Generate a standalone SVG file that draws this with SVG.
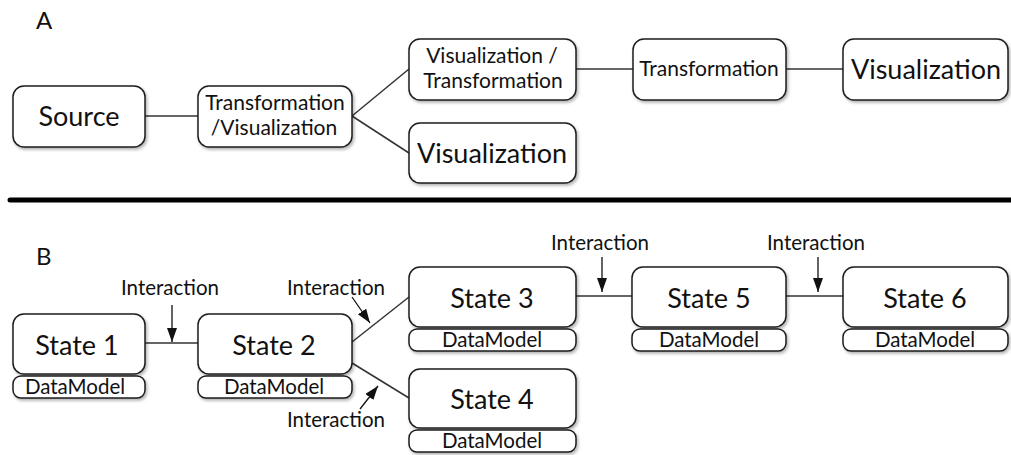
<svg xmlns="http://www.w3.org/2000/svg" width="1011" height="455" viewBox="0 0 1011 455">
  <style>
    .box { fill: #fff; stroke: #1e1e1e; stroke-width: 1.5; filter: url(#shadow); }
    .link { stroke: #333; stroke-width: 1.5; fill: none; }
    .arrow { stroke: #111; stroke-width: 1.3; fill: none; marker-end: url(#head); }
    text { font-family: Lato, "Open Sans", "Liberation Sans", sans-serif; fill: #111; text-anchor: middle; }
    .big { font-size: 27px; }
    .mid { font-size: 21px; }
    .state { font-size: 27px; }
    .dm { font-size: 20.5px; }
    .lbl { font-size: 20.5px; }
    .panel { font-size: 24px; text-anchor: start; }
  </style>
  <defs>
    <filter id="shadow" x="-10%" y="-10%" width="125%" height="135%">
      <feDropShadow dx="1.5" dy="2" stdDeviation="1.5" flood-color="#000" flood-opacity="0.3"/>
    </filter>
    <marker id="head" markerUnits="userSpaceOnUse" markerWidth="16" markerHeight="12" refX="14" refY="5" orient="auto">
      <path d="M0,0 L14,5 L0,10 Z" fill="#111"/>
    </marker>
  </defs>

  <!-- panel A -->
  <text class="panel" x="36" y="29">A</text>

  <g id="connectors-a">
    <line class="link" x1="145" y1="116" x2="198" y2="116"/>
    <line class="link" x1="352" y1="116" x2="409" y2="69"/>
    <line class="link" x1="352" y1="116" x2="409" y2="153"/>
    <line class="link" x1="576" y1="69" x2="633" y2="69"/>
    <line class="link" x1="786" y1="69" x2="843" y2="69"/>
  </g>

  <g id="source">
    <rect class="box" x="13" y="86" width="132" height="61" rx="11"/>
    <text class="big" x="79" y="126">Source</text>
  </g>
  <g id="transform-visualize">
    <rect class="box" x="198" y="86" width="154" height="61" rx="11"/>
    <text class="mid" x="275" y="110">Transformation</text>
    <text class="mid" x="274" y="135">/Visualization</text>
  </g>
  <g id="visualize-transform">
    <rect class="box" x="409" y="39" width="167" height="61" rx="11"/>
    <text class="mid" x="492" y="63">Visualization /</text>
    <text class="mid" x="493" y="88">Transformation</text>
  </g>
  <g id="transformation">
    <rect class="box" x="633" y="39" width="153" height="61" rx="11"/>
    <text class="mid" x="709" y="76">Transformation</text>
  </g>
  <g id="visualization-end">
    <rect class="box" x="843" y="39" width="165" height="61" rx="11"/>
    <text class="big" x="926" y="79">Visualization</text>
  </g>
  <g id="visualization-branch">
    <rect class="box" x="409" y="123" width="167" height="60" rx="11"/>
    <text class="big" x="492" y="163">Visualization</text>
  </g>

  <!-- divider between panels -->
  <line x1="10" y1="200" x2="1011" y2="200" stroke="#000" stroke-width="5" stroke-linecap="round"/>

  <!-- panel B -->
  <text class="panel" x="36" y="265">B</text>

  <g id="connectors-b">
    <line class="link" x1="145" y1="343" x2="198" y2="343"/>
    <line class="link" x1="352" y1="342" x2="409" y2="297"/>
    <line class="link" x1="352" y1="363" x2="409" y2="398"/>
    <line class="link" x1="576" y1="296" x2="632" y2="296"/>
    <line class="link" x1="786" y1="296" x2="843" y2="296"/>
    <line class="arrow" x1="172" y1="305" x2="172" y2="342"/>
    <line class="arrow" x1="352" y1="297" x2="370" y2="323"/>
    <line class="arrow" x1="360" y1="409" x2="378" y2="386"/>
    <line class="arrow" x1="602" y1="257" x2="602" y2="292"/>
    <line class="arrow" x1="818" y1="257" x2="818" y2="292"/>
  </g>

  <g id="interaction-labels">
    <text class="lbl" x="170" y="295">Interaction</text>
    <text class="lbl" x="336" y="295">Interaction</text>
    <text class="lbl" x="336" y="427">Interaction</text>
    <text class="lbl" x="600" y="250">Interaction</text>
    <text class="lbl" x="816" y="250">Interaction</text>
  </g>

  <g id="state1">
    <rect class="box" x="13" y="314" width="132" height="60" rx="11"/>
    <text class="state" x="77" y="355">State 1</text>
    <rect class="box" x="13" y="376" width="132" height="22" rx="8"/>
    <text class="dm" x="75" y="394">DataModel</text>
  </g>
  <g id="state2">
    <rect class="box" x="198" y="314" width="154" height="60" rx="11"/>
    <text class="state" x="274" y="355">State 2</text>
    <rect class="box" x="198" y="376" width="154" height="22" rx="8"/>
    <text class="dm" x="274" y="394">DataModel</text>
  </g>
  <g id="state3">
    <rect class="box" x="409" y="267" width="167" height="60" rx="11"/>
    <text class="state" x="492" y="308">State 3</text>
    <rect class="box" x="409" y="329" width="167" height="22" rx="8"/>
    <text class="dm" x="492" y="347">DataModel</text>
  </g>
  <g id="state4">
    <rect class="box" x="409" y="369" width="167" height="59" rx="11"/>
    <text class="state" x="492" y="409">State 4</text>
    <rect class="box" x="409" y="430" width="167" height="22" rx="8"/>
    <text class="dm" x="492" y="448">DataModel</text>
  </g>
  <g id="state5">
    <rect class="box" x="632" y="267" width="154" height="60" rx="11"/>
    <text class="state" x="709" y="308">State 5</text>
    <rect class="box" x="632" y="329" width="154" height="22" rx="8"/>
    <text class="dm" x="709" y="347">DataModel</text>
  </g>
  <g id="state6">
    <rect class="box" x="843" y="267" width="165" height="60" rx="11"/>
    <text class="state" x="925" y="308">State 6</text>
    <rect class="box" x="843" y="329" width="165" height="22" rx="8"/>
    <text class="dm" x="925" y="347">DataModel</text>
  </g>
</svg>
